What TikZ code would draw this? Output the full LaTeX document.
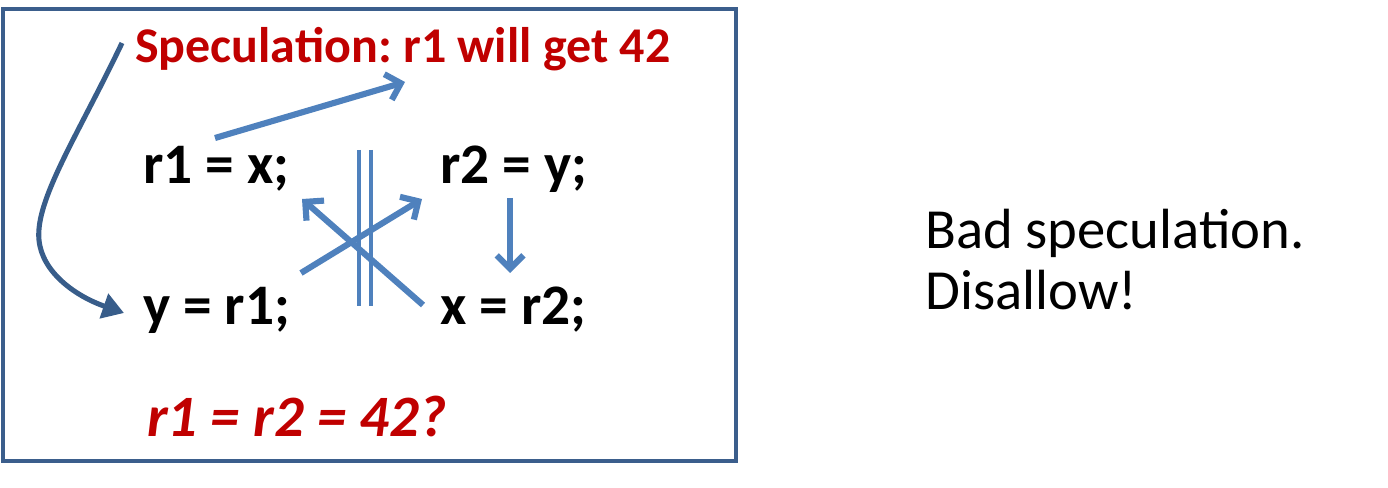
\documentclass[tikz,border=0pt]{standalone}
\usepackage{fontspec}
\setmainfont{Carlito}
\usetikzlibrary{arrows.meta}
\frenchspacing
\definecolor{lblue}{HTML}{4F81BD}
\definecolor{dblue}{HTML}{385D8A}
\definecolor{frameblue}{HTML}{3B5E8C}
\definecolor{dred}{HTML}{C00000}
\newcommand{\mycodefont}{\fontsize{43}{50}\selectfont\bfseries}
\newcommand{\myqfont}{\fontsize{44}{50}\selectfont\bfseries\itshape}
\tikzset{
  code/.style={anchor=base west, inner sep=0pt, font=\mycodefont},
  spec/.style={anchor=base west, inner sep=0pt, text=dred, font=\fontsize{37.5}{44}\selectfont\bfseries},
  qtext/.style={anchor=base west, inner sep=0pt, text=dred, font=\myqfont},
  side/.style={anchor=base west, inner sep=0pt, font=\fontsize{42.5}{50}\selectfont},
  flow/.style={draw=lblue, line width=4.6pt, -{Straight Barb[length=10pt, width=20pt, line width=4.6pt]}},
  order/.style={draw=lblue, line width=2.6pt},
  spec arrow/.style={draw=dblue, line width=3.8pt, -{Triangle[length=16pt, width=19pt]}},
}
\begin{document}
\begin{tikzpicture}[x=0.75pt, y=-0.75pt]
\useasboundingbox (0,0) rectangle (1388,488);
\draw[frameblue, line width=2.3pt] (3,9) rectangle (736,461);
\node[spec] (s) at (135,63) {Speculation: r1 will get 42};
\node[code] (a) at (143,184) {r1 = x;};
\node[code] (b) at (440,184) {r2 = y;};
\node[code] (c) at (143,324) {y = r1;};
\node[code] (d) at (440,324) {x = r2;};
\node[qtext] (q) at (147,436) {r1 = r2 = 42?};
\node[side] (t1) at (925,249) {Bad speculation.};
\node[side] (t2) at (925,309) {Disallow!};
% connector endpoints
\coordinate (aS) at (215,138);
\coordinate (sE) at (405,82);
\coordinate (cS) at (301,273);
\coordinate (bE) at (422,199);
\coordinate (dS) at (423,305);
\coordinate (aE) at (302,199);
\coordinate (bS) at (510,198);
\coordinate (dE) at (510,273);
\coordinate (sS) at (122,43);
\coordinate (cE) at (124,313);
\coordinate (o1t) at (359,150);
\coordinate (o1b) at (359,306);
\coordinate (o2t) at (371,150);
\coordinate (o2b) at (371,306);
\draw[order] (o1t) -- (o1b);
\draw[order] (o2t) -- (o2b);
\draw[flow] (aS) -- (sE);
\draw[flow] (cS) -- (bE);
\draw[flow] (dS) -- (aE);
\draw[flow] (bS) -- (dE);
\draw[spec arrow] (sS) .. controls (78,135) and (35,200) .. (39,240) .. controls (42,272) and (75,296) .. (cE);
\end{tikzpicture}
\end{document}
